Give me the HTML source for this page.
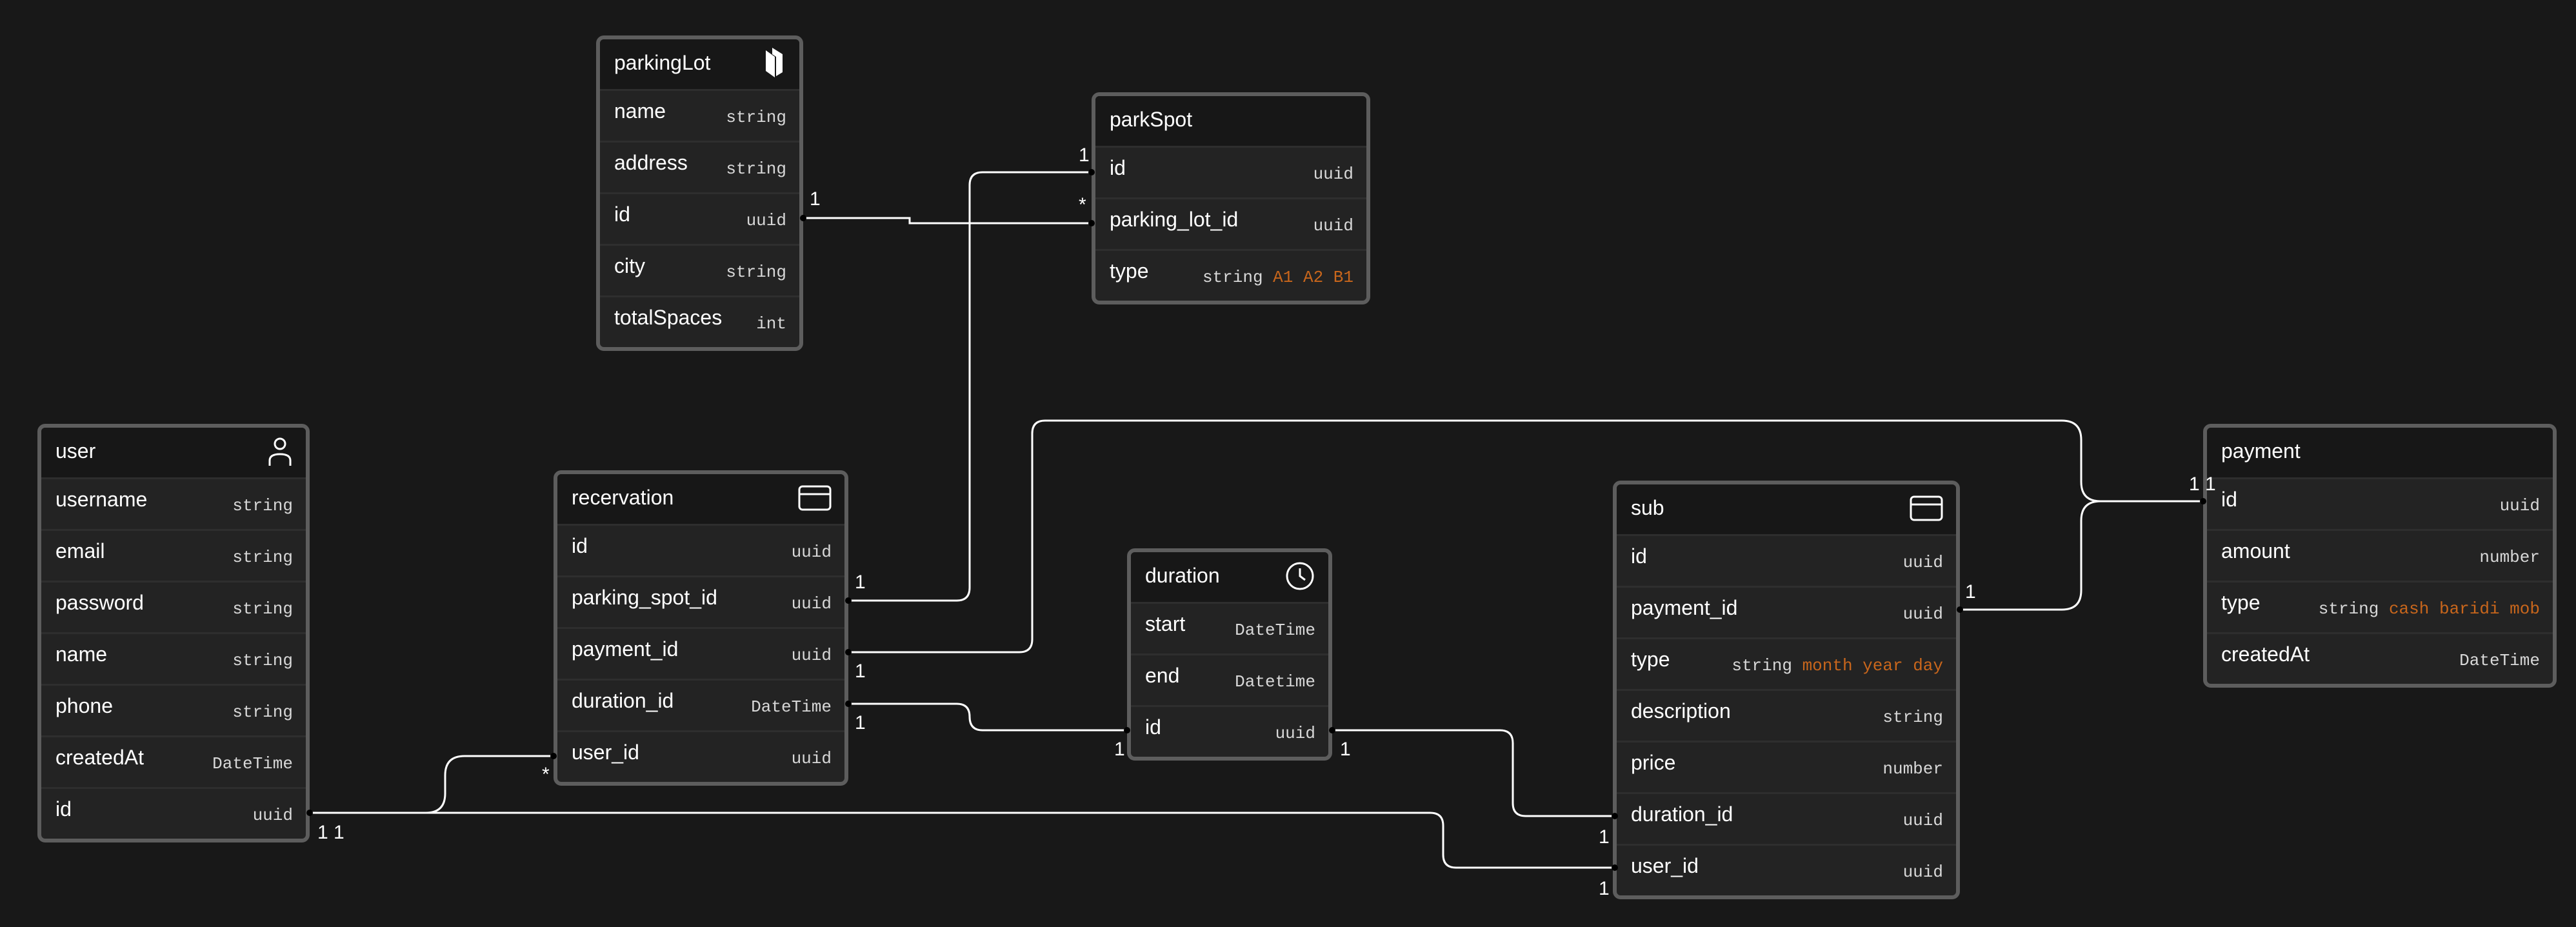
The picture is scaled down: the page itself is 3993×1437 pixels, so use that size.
<!DOCTYPE html>
<html><head><meta charset="utf-8">
<style>
html,body{margin:0;padding:0;background:#181818;}
body{width:3993px;height:1437px;position:relative;overflow:hidden;font-family:"Liberation Sans",sans-serif;}
.t{position:absolute;border:6px solid #5d5d5d;border-radius:12px;background:#232323;overflow:hidden;box-sizing:border-box;}
.h{height:77px;background:#171717;display:flex;align-items:center;justify-content:space-between;padding:0 20px 4px 22px;box-sizing:border-box;font-size:32px;color:#fff;}
.r{height:80px;border-top:3px solid #2e2e2e;box-sizing:border-box;display:flex;align-items:center;justify-content:space-between;padding:0 20px 0 22px;}
.n{font-size:32px;color:#fff;margin-top:-14px;}
.y{font-family:"Liberation Mono",monospace;font-size:26px;color:#d8d8d8;margin-top:4px;white-space:pre;}
.o{color:#c8661c;}
svg.ov{position:absolute;left:0;top:0;}
</style></head><body>

<div class="t" style="left:924px;top:55px;width:321px;">
 <div class="h"><span>parkingLot</span>
  <svg width="36" height="52" viewBox="0 0 36 52"><path d="M4 6 L18 16 L18 48 L4 38 Z" fill="#fff"/><path d="M14 2 L30 12 L30 40 L20 46 L20 16 L14 12 Z" fill="#fff"/></svg></div>
 <div class="r"><span class="n">name</span><span class="y">string</span></div>
 <div class="r"><span class="n">address</span><span class="y">string</span></div>
 <div class="r"><span class="n">id</span><span class="y">uuid</span></div>
 <div class="r"><span class="n">city</span><span class="y">string</span></div>
 <div class="r"><span class="n">totalSpaces</span><span class="y">int</span></div>
</div>

<div class="t" style="left:1692px;top:143px;width:432px;">
 <div class="h"><span>parkSpot</span></div>
 <div class="r"><span class="n">id</span><span class="y">uuid</span></div>
 <div class="r"><span class="n">parking_lot_id</span><span class="y">uuid</span></div>
 <div class="r"><span class="n">type</span><span class="y">string <span class="o">A1 A2 B1</span></span></div>
</div>

<div class="t" style="left:58px;top:657px;width:422px;">
 <div class="h"><span>user</span>
  <svg width="40" height="48" viewBox="0 0 40 48"><circle cx="20" cy="12" r="8" fill="none" stroke="#fff" stroke-width="3"/><path d="M4 46 V38 Q4 28 20 28 Q36 28 36 38 V46" fill="none" stroke="#fff" stroke-width="3"/></svg></div>
 <div class="r"><span class="n">username</span><span class="y">string</span></div>
 <div class="r"><span class="n">email</span><span class="y">string</span></div>
 <div class="r"><span class="n">password</span><span class="y">string</span></div>
 <div class="r"><span class="n">name</span><span class="y">string</span></div>
 <div class="r"><span class="n">phone</span><span class="y">string</span></div>
 <div class="r"><span class="n">createdAt</span><span class="y">DateTime</span></div>
 <div class="r"><span class="n">id</span><span class="y">uuid</span></div>
</div>

<div class="t" style="left:858px;top:729px;width:457px;">
 <div class="h"><span>recervation</span>
  <svg width="52" height="40" viewBox="0 0 52 40"><rect x="2" y="2" width="48" height="36" rx="5" fill="none" stroke="#fff" stroke-width="3"/><line x1="2" y1="14" x2="50" y2="14" stroke="#fff" stroke-width="3"/></svg></div>
 <div class="r"><span class="n">id</span><span class="y">uuid</span></div>
 <div class="r"><span class="n">parking_spot_id</span><span class="y">uuid</span></div>
 <div class="r"><span class="n">payment_id</span><span class="y">uuid</span></div>
 <div class="r"><span class="n">duration_id</span><span class="y">DateTime</span></div>
 <div class="r"><span class="n">user_id</span><span class="y">uuid</span></div>
</div>

<div class="t" style="left:1747px;top:850px;width:318px;">
 <div class="h"><span>duration</span>
  <svg width="48" height="48" viewBox="0 0 48 48"><circle cx="24" cy="24" r="20" fill="none" stroke="#fff" stroke-width="3"/><path d="M24 12 V24 L32 30" fill="none" stroke="#fff" stroke-width="3"/></svg></div>
 <div class="r"><span class="n">start</span><span class="y">DateTime</span></div>
 <div class="r"><span class="n">end</span><span class="y">Datetime</span></div>
 <div class="r"><span class="n">id</span><span class="y">uuid</span></div>
</div>

<div class="t" style="left:2500px;top:745px;width:538px;">
 <div class="h"><span>sub</span>
  <svg width="52" height="40" viewBox="0 0 52 40"><rect x="2" y="2" width="48" height="36" rx="5" fill="none" stroke="#fff" stroke-width="3"/><line x1="2" y1="14" x2="50" y2="14" stroke="#fff" stroke-width="3"/></svg></div>
 <div class="r"><span class="n">id</span><span class="y">uuid</span></div>
 <div class="r"><span class="n">payment_id</span><span class="y">uuid</span></div>
 <div class="r"><span class="n">type</span><span class="y">string <span class="o">month year day</span></span></div>
 <div class="r"><span class="n">description</span><span class="y">string</span></div>
 <div class="r"><span class="n">price</span><span class="y">number</span></div>
 <div class="r"><span class="n">duration_id</span><span class="y">uuid</span></div>
 <div class="r"><span class="n">user_id</span><span class="y">uuid</span></div>
</div>

<div class="t" style="left:3415px;top:657px;width:548px;">
 <div class="h"><span>payment</span></div>
 <div class="r"><span class="n">id</span><span class="y">uuid</span></div>
 <div class="r"><span class="n">amount</span><span class="y">number</span></div>
 <div class="r"><span class="n">type</span><span class="y">string <span class="o">cash baridi mob</span></span></div>
 <div class="r"><span class="n">createdAt</span><span class="y">DateTime</span></div>
</div>

<svg class="ov" width="3993" height="1437" viewBox="0 0 3993 1437">
<g fill="none" stroke="#fff" stroke-width="3">
 <path d="M1245 338 H1410 V346 H1692"/>
 <path d="M1315 931 H1483 Q1503 931 1503 911 V287 Q1503 267 1523 267 H1692"/>
 <path d="M1315 1011 H1580 Q1600 1011 1600 991 V672 Q1600 652 1620 652 H3196 Q3226 652 3226 682 V747 Q3226 777 3256 777 H3415"/>
 <path d="M3038 945 H3196 Q3226 945 3226 915 V807 Q3226 777 3256 777"/>
 <path d="M1315 1091 H1483 Q1503 1091 1503 1111 Q1503 1132 1523 1132 H1747"/>
 <path d="M2065 1132 H2325 Q2345 1132 2345 1152 V1245 Q2345 1265 2365 1265 H2503"/>
 <path d="M480 1260 H660 Q690 1260 690 1230 V1202 Q690 1172 720 1172 H858"/>
 <path d="M480 1260 H2217 Q2237 1260 2237 1280 V1325 Q2237 1345 2257 1345 H2503"/>
</g>
<g fill="#000">
 <circle cx="1245" cy="338" r="5"/><circle cx="1692" cy="346" r="5"/><circle cx="1692" cy="267" r="5"/>
 <circle cx="1315" cy="931" r="5"/><circle cx="1315" cy="1011" r="5"/><circle cx="1315" cy="1091" r="5"/>
 <circle cx="3415" cy="777" r="5"/><circle cx="3038" cy="945" r="5"/><circle cx="1747" cy="1132" r="5"/>
 <circle cx="2065" cy="1132" r="5"/><circle cx="2503" cy="1265" r="5"/><circle cx="2503" cy="1345" r="5"/>
 <circle cx="480" cy="1260" r="5"/><circle cx="858" cy="1172" r="5"/>
</g>
<g fill="#fff" font-family="Liberation Sans, sans-serif" font-size="30">
 <text x="1255" y="318">1</text>
 <text x="1672" y="327">*</text>
 <text x="1672" y="250">1</text>
 <text x="1325" y="912">1</text>
 <text x="1325" y="1050">1</text>
 <text x="1325" y="1130">1</text>
 <text x="1727" y="1171">1</text>
 <text x="2077" y="1171">1</text>
 <text x="2478" y="1307">1</text>
 <text x="2478" y="1387">1</text>
 <text x="3046" y="927">1</text>
 <text x="3393" y="760">1 1</text>
 <text x="840" y="1210">*</text>
 <text x="492" y="1300">1 1</text>
</g>
</svg>
</body></html>
